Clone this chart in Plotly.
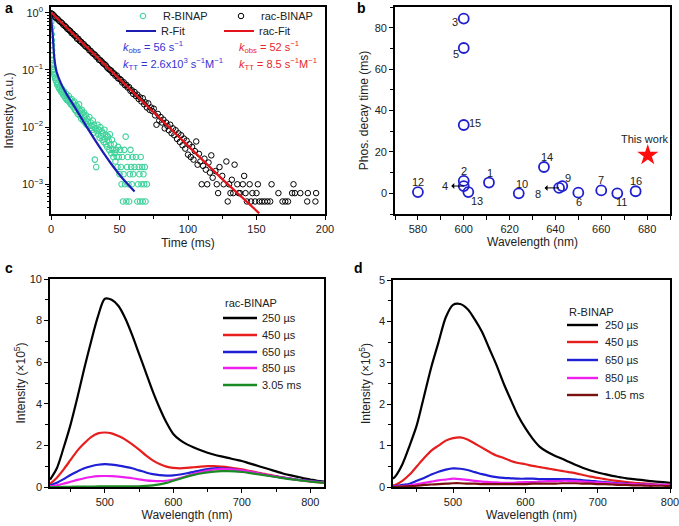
import plotly.graph_objects as go

# ---------------- data ----------------
# panel a : phosphorescence decay
r_t = [0.2, 0.3, 0.4, 0.5, 0.6, 0.7, 0.8, 0.9, 1.0, 1.2, 1.4, 1.6, 1.8, 2.0, 2.3, 2.6, 3.0, 3.5, 4.0, 4.5,
       5.0, 5.5, 6.0, 6.5, 7.0, 7.5, 8.0, 8.5, 9.0, 9.5, 10.0, 10.5, 11.0, 11.5, 12.0, 12.5, 13.0, 13.5,
       14.0, 14.5, 15.0, 15.5, 16.0, 16.5, 17.0, 17.5, 18.0, 18.5, 19.0, 19.5, 20.0, 20.5, 21.0, 21.5,
       22.0, 22.5, 23.0, 23.5, 24.0, 24.5, 25.0, 25.5, 26.0, 26.5, 27.0, 27.5, 28.0, 28.5, 29.0, 29.5,
       30.0, 30.5, 31.0, 31.5, 32.0, 32.5, 33.0, 33.5, 34.0, 34.5, 35.0, 35.5, 36.0, 36.5, 37.0, 37.5,
       38.0, 38.5, 39.0, 39.5, 40.0, 40.5, 41.0, 41.5, 42.0, 42.5, 43.0, 43.5, 44.0, 44.5, 45.0, 45.5,
       46.0, 46.5, 47.0, 47.5, 48.0, 48.5, 49.0, 49.5, 50.0, 50.5, 51.0, 51.5, 52.0, 52.5, 53.0, 53.5,
       54.0, 54.5, 55.0, 55.5, 56.0, 56.5, 57.0, 57.5, 58.0, 58.5, 59.0, 59.5, 60.0, 61.0, 62.0, 63.0,
       63.5, 64.0, 64.5, 65.0, 65.5, 66.0, 66.5, 67.0, 67.5, 68.0, 68.5, 69.0, 70.0]
r_I = [0.95, 0.7, 0.55, 0.42, 0.33, 0.27, 0.22, 0.18, 0.15, 0.13, 0.115, 0.105, 0.1, 0.092, 0.085, 0.08,
       0.072, 0.066, 0.062, 0.055, 0.058, 0.05, 0.047, 0.052, 0.044, 0.041, 0.046, 0.039, 0.036, 0.042,
       0.035, 0.032, 0.038, 0.03, 0.033, 0.029, 0.035, 0.027, 0.03, 0.025, 0.031, 0.024, 0.027, 0.022,
       0.028, 0.02, 0.024, 0.019, 0.023, 0.017, 0.021, 0.025, 0.016, 0.019, 0.014, 0.02, 0.017, 0.013,
       0.018, 0.015, 0.012, 0.016, 0.011, 0.014, 0.0125, 0.0105, 0.015, 0.0095, 0.012, 0.0105, 0.009,
       0.013, 0.008, 0.011, 0.0027, 0.0095, 0.002, 0.0085, 0.011, 0.0075, 0.009, 0.0065, 0.01, 0.007,
       0.0085, 0.006, 0.0078, 0.0055, 0.009, 0.0062, 0.005, 0.0072, 0.0045, 0.0068, 0.0058, 0.004, 0.0075,
       0.005, 0.0035, 0.006, 0.004, 0.003, 0.005, 0.0035, 0.0025, 0.004, 0.003, 0.002, 0.0045, 0.003,
       0.0015, 0.004, 0.002, 0.001, 0.003, 0.0005, 0.0015, 0.004, 0.001, 0.0068, 0.0005, 0.002, 0.003,
       0.001, 0.0005, 0.0015, 0.004, 0.002, 0.001, 0.003, 0.0015, 0.002, 0.003, 0.0005, 0.001, 0.002,
       0.0015, 0.0005, 0.003, 0.001, 0.002, 0.0005, 0.0015, 0.001, 0.002, 0.0005, 0.001]

rac_t = [0, 1, 2, 3, 4, 5, 6, 7, 8, 9, 10, 11, 12, 13, 14, 15, 16, 17, 18, 19, 20, 21, 22, 23, 24, 25,
         26, 27, 28, 29, 30, 31, 32, 33, 34, 35, 36, 37, 38, 39, 40, 41, 42, 43, 44, 45, 46, 47, 48, 49,
         50, 51, 52, 53, 54, 55, 56, 57, 58, 59, 60, 61, 62, 63, 64, 65, 66, 67, 68, 69, 70, 71, 72, 73,
         74, 75, 76, 77, 78, 79, 80, 81, 82, 83, 84, 85, 86, 87, 88, 89, 90, 91, 92, 93, 94, 95, 96, 97,
         98, 99, 100, 101, 102, 103, 104, 105, 106, 107, 108, 109, 110, 111, 112, 113, 114, 115, 116, 117,
         118, 120, 121, 122, 123, 125, 126, 128, 129, 130, 131, 132, 133, 134, 136, 137, 138, 140, 141,
         142, 143, 145, 146, 147, 149, 150, 151, 152, 154, 156, 158, 160, 161, 166, 169, 171, 173, 176,
         177, 178, 182, 187, 187.5, 193, 193.5]
rac_I = [0.98, 0.95, 0.9, 0.84, 0.8, 0.77, 0.72, 0.69, 0.66, 0.61, 0.59, 0.56, 0.52, 0.5, 0.48, 0.44,
         0.43, 0.4, 0.39, 0.35, 0.35, 0.32, 0.31, 0.29, 0.28, 0.26, 0.25, 0.24, 0.22, 0.215, 0.2, 0.19,
         0.185, 0.17, 0.165, 0.15, 0.148, 0.14, 0.13, 0.126, 0.12, 0.11, 0.104, 0.1, 0.097, 0.088, 0.087,
         0.079, 0.08, 0.071, 0.07, 0.067, 0.06, 0.061, 0.054, 0.055, 0.049, 0.05, 0.043, 0.044, 0.038,
         0.041, 0.035, 0.037, 0.031, 0.033, 0.028, 0.032, 0.025, 0.027, 0.022, 0.026, 0.02, 0.022, 0.019,
         0.021, 0.016, 0.011, 0.017, 0.013, 0.015, 0.012, 0.0135, 0.0095, 0.012, 0.0105, 0.0088, 0.011,
         0.0078, 0.0095, 0.0072, 0.0088, 0.0062, 0.0078, 0.0055, 0.0072, 0.0048, 0.0063, 0.0042, 0.0058,
         0.0033, 0.005, 0.003, 0.0045, 0.0027, 0.0038, 0.0056, 0.0022, 0.0034, 0.0025, 0.001, 0.0021,
         0.0028, 0.0018, 0.001, 0.0024, 0.0016, 0.0032, 0.0013, 0.0017, 0.001, 0.0007, 0.002, 0.0014,
         0.001, 0.0025, 0.0005, 0.001, 0.0007, 0.0012, 0.0007, 0.0022, 0.001, 0.0007, 0.0007, 0.001,
         0.0014, 0.0007, 0.0005, 0.001, 0.0005, 0.0007, 0.0005, 0.0007, 0.001, 0.0005, 0.0005, 0.0005,
         0.0005, 0.0005, 0.001, 0.0007, 0.0005, 0.0005, 0.0005, 0.0007, 0.001, 0.0007, 0.0007, 0.0005,
         0.0007, 0.0005, 0.0007]

rfit_t = [0, 0.5, 1.2, 2.4, 4.1, 7.3, 11, 17, 24.4, 33, 42.7, 52.4, 61]
rfit_I = [1.0, 0.62, 0.43, 0.16, 0.093, 0.058, 0.039, 0.023, 0.0117, 0.0055, 0.0025, 0.00125, 0.00075]
racfit_t = [0, 25, 50, 75, 100, 125, 152]
racfit_I = [1.02, 0.266, 0.0695, 0.0181, 0.0047, 0.00123, 0.00031]

a_tickvals = [1, 0.1, 0.01, 0.001]
a_ticktext = ["10<sup>0</sup>", "10<sup>−1</sup>", "10<sup>−2</sup>", "10<sup>−3</sup>"]

# panel b : literature comparison
b_wl = [611, 600, 600, 600, 600, 650, 660, 641.6, 643, 624, 667, 580, 602, 635, 600, 675]
b_tau = [5.2, 6.0, 84.4, 3.5, 70.2, 0.3, 1.4, 2.6, 3.5, 0.0, 0.0, 0.6, 0.6, 12.7, 33.0, 1.0]
b_lab = ["1", "2", "3", "4", "5", "6", "7", "8", "9", "10", "11", "12", "13", "14", "15", "16"]
this_wl = [680.3]
this_tau = [18.4]

# panel c : rac-BINAP spectra
wl_c = [420, 430, 440, 450, 460, 470, 480, 490, 500, 510, 520, 530, 540, 550, 560, 570, 580, 590, 600,
        610, 620, 630, 640, 650, 660, 670, 680, 690, 700, 710, 720, 730, 740, 750, 760, 770, 780, 790,
        800, 810, 820]
c_250us = [0.35, 0.9, 1.9, 3.0, 4.3, 5.7, 7.0, 8.2, 9.05, 9.0, 8.7, 8.1, 7.3, 6.4, 5.5, 4.6, 3.8, 3.1,
           2.55, 2.25, 2.05, 1.9, 1.77, 1.65, 1.55, 1.47, 1.4, 1.32, 1.25, 1.15, 1.05, 0.95, 0.85, 0.75,
           0.65, 0.57, 0.5, 0.42, 0.36, 0.3, 0.26]
c_450us = [0.15, 0.45, 0.85, 1.3, 1.75, 2.1, 2.4, 2.58, 2.62, 2.58, 2.45, 2.28, 2.05, 1.8, 1.52, 1.28,
           1.1, 0.98, 0.92, 0.9, 0.92, 0.95, 0.98, 1.0, 1.0, 0.98, 0.95, 0.9, 0.85, 0.78, 0.72, 0.65, 0.58,
           0.52, 0.46, 0.4, 0.35, 0.3, 0.27, 0.23, 0.2]
c_650us = [0.08, 0.2, 0.38, 0.58, 0.75, 0.9, 1.0, 1.07, 1.1, 1.08, 1.03, 0.97, 0.9, 0.8, 0.7, 0.62, 0.57,
           0.55, 0.56, 0.6, 0.66, 0.73, 0.8, 0.86, 0.9, 0.9, 0.88, 0.84, 0.79, 0.73, 0.67, 0.61, 0.55,
           0.5, 0.45, 0.4, 0.36, 0.32, 0.29, 0.26, 0.23]
c_850us = [0.03, 0.08, 0.16, 0.25, 0.34, 0.42, 0.48, 0.52, 0.53, 0.52, 0.5, 0.46, 0.42, 0.37, 0.32, 0.29,
           0.28, 0.3, 0.35, 0.43, 0.53, 0.63, 0.72, 0.79, 0.84, 0.86, 0.86, 0.84, 0.8, 0.75, 0.69, 0.62,
           0.56, 0.5, 0.45, 0.4, 0.35, 0.31, 0.28, 0.25, 0.22]
c_305ms = [0.0, 0.0, 0.01, 0.01, 0.02, 0.02, 0.02, 0.03, 0.03, 0.03, 0.03, 0.03, 0.03, 0.03, 0.05, 0.08,
           0.13, 0.2, 0.3, 0.4, 0.5, 0.58, 0.65, 0.7, 0.74, 0.76, 0.76, 0.75, 0.72, 0.68, 0.63, 0.58, 0.53,
           0.48, 0.43, 0.38, 0.34, 0.3, 0.26, 0.23, 0.2]

# panel d : R-BINAP spectra
wl_d = [417, 420, 430, 440, 450, 460, 470, 480, 490, 500, 510, 520, 530, 540, 550, 560, 570, 580, 590,
        600, 610, 620, 630, 640, 650, 660, 670, 680, 690, 700, 710, 720, 730, 740, 750, 760, 770, 780,
        790, 800]
d_250us = [0.2, 0.25, 0.55, 1.0, 1.5, 2.2, 2.9, 3.5, 4.1, 4.4, 4.42, 4.3, 4.05, 3.75, 3.35, 2.95, 2.5,
           2.1, 1.72, 1.42, 1.17, 0.97, 0.85, 0.76, 0.69, 0.61, 0.53, 0.46, 0.4, 0.35, 0.31, 0.27, 0.24,
           0.21, 0.19, 0.17, 0.15, 0.13, 0.12, 0.1]
d_450us = [0.04, 0.05, 0.15, 0.3, 0.5, 0.7, 0.88, 1.0, 1.12, 1.18, 1.2, 1.15, 1.05, 0.95, 0.85, 0.76, 0.7,
           0.63, 0.58, 0.55, 0.51, 0.48, 0.45, 0.42, 0.39, 0.36, 0.33, 0.29, 0.25, 0.22, 0.19, 0.16, 0.14,
           0.12, 0.1, 0.09, 0.08, 0.06, 0.05, 0.05]
d_650us = [0.02, 0.02, 0.05, 0.08, 0.15, 0.22, 0.3, 0.37, 0.42, 0.45, 0.44, 0.41, 0.36, 0.31, 0.27, 0.24,
           0.22, 0.21, 0.2, 0.2, 0.2, 0.19, 0.19, 0.19, 0.19, 0.19, 0.18, 0.16, 0.15, 0.13, 0.12, 0.1, 0.09,
           0.08, 0.07, 0.06, 0.06, 0.05, 0.05, 0.04]
d_850us = [0.01, 0.01, 0.02, 0.04, 0.07, 0.1, 0.13, 0.16, 0.18, 0.2, 0.19, 0.17, 0.15, 0.13, 0.12, 0.11,
           0.1, 0.1, 0.11, 0.12, 0.12, 0.13, 0.14, 0.14, 0.15, 0.15, 0.14, 0.13, 0.12, 0.11, 0.1, 0.09,
           0.08, 0.07, 0.07, 0.06, 0.06, 0.05, 0.05, 0.05]
d_105ms = [0.0, 0.0, 0.01, 0.02, 0.03, 0.05, 0.06, 0.07, 0.08, 0.09, 0.09, 0.08, 0.08, 0.07, 0.07, 0.07,
           0.07, 0.07, 0.07, 0.07, 0.08, 0.08, 0.08, 0.08, 0.09, 0.09, 0.09, 0.08, 0.08, 0.07, 0.07, 0.06,
           0.05, 0.05, 0.04, 0.04, 0.03, 0.03, 0.03, 0.02]

# ---------------- figure ----------------
W, H = 679, 526
FONT = "Liberation Sans, Arial, Helvetica, sans-serif"


def px_x(a, b):
    return [a / W, b / W]


def px_y(top, bottom):
    return [1 - bottom / H, 1 - top / H]


fig = go.Figure()

GREEN = "#3fd39b"
BLUE_FIT = "#1d1db4"
RED_FIT = "#e3141c"

# panel a traces
fig.add_trace(go.Scatter(x=r_t, y=r_I, mode="markers", name="R-BINAP", xaxis="x", yaxis="y",
                         marker=dict(symbol="circle-open", size=5.5, color=GREEN, line=dict(width=1.1)),
                         legend="legend"))
fig.add_trace(go.Scatter(x=rac_t, y=rac_I, mode="markers", name="rac-BINAP", xaxis="x", yaxis="y",
                         marker=dict(symbol="circle-open", size=5.5, color="black", line=dict(width=1)),
                         legend="legend2"))
fig.add_trace(go.Scatter(x=rfit_t, y=rfit_I, mode="lines", name="R-Fit", xaxis="x", yaxis="y",
                         line=dict(color=BLUE_FIT, width=2.2, shape="spline", smoothing=0.6),
                         legend="legend3"))
fig.add_trace(go.Scatter(x=racfit_t, y=racfit_I, mode="lines", name="rac-Fit", xaxis="x", yaxis="y",
                         line=dict(color=RED_FIT, width=2.2), legend="legend4"))

# panel b traces
fig.add_trace(go.Scatter(x=b_wl, y=b_tau, mode="markers", xaxis="x2", yaxis="y2", showlegend=False,
                         marker=dict(symbol="circle-open", size=10, color="#2020d0", line=dict(width=1.8))))
fig.add_trace(go.Scatter(x=this_wl, y=this_tau, mode="markers", xaxis="x2", yaxis="y2", showlegend=False,
                         marker=dict(symbol="star", size=16, color="#ff0d0d", line=dict(width=0))))

# panel c / d traces
c_series = [("250 µs", c_250us, "#000000"), ("450 µs", c_450us, "#e61e1e"), ("650 µs", c_650us, "#1f1fd6"),
            ("850 µs", c_850us, "#ef20ef"), ("3.05 ms", c_305ms, "#1c8a24")]
d_series = [("250 µs", d_250us, "#000000"), ("450 µs", d_450us, "#e61e1e"), ("650 µs", d_650us, "#1f1fd6"),
            ("850 µs", d_850us, "#ef20ef"), ("1.05 ms", d_105ms, "#7a1010")]
for name, vals, col in c_series:
    fig.add_trace(go.Scatter(x=wl_c, y=vals, mode="lines", name=name, xaxis="x3", yaxis="y3",
                             showlegend=False,
                             line=dict(color=col, width=2.2, shape="spline", smoothing=0.8)))
for name, vals, col in d_series:
    fig.add_trace(go.Scatter(x=wl_d, y=vals, mode="lines", name=name, xaxis="x4", yaxis="y4",
                             showlegend=False,
                             line=dict(color=col, width=2.2, shape="spline", smoothing=0.8)))

axis_common = dict(showline=True, linecolor="black", linewidth=1.6, mirror=True, ticks="outside",
                   ticklen=4, tickwidth=1.2, tickcolor="black", showgrid=False, zeroline=False,
                   automargin=False, ticklabeloverflow="allow",
                   tickfont=dict(size=11, color="#222", family=FONT),
                   title_font=dict(size=12, color="#222", family=FONT))

minor_a_y = []
for e in [-4, -3, -2, -1, 0]:
    for k in range(2, 10):
        minor_a_y.append(k * 10 ** e)

fig.update_layout(
    width=W, height=H, margin=dict(l=0, r=0, t=0, b=0),
    paper_bgcolor="white", plot_bgcolor="white",
    font=dict(family=FONT, size=11, color="#222"),
    xaxis=dict(axis_common, domain=px_x(51, 325), range=[0, 200], dtick=50, tick0=0,
               minor=dict(ticks="outside", dtick=25, ticklen=3, tickcolor="black"),
               title=dict(text="Time (ms)", standoff=5), anchor="y"),
    yaxis=dict(axis_common, domain=px_y(7, 214), type="log", range=[-3.52, 0.1],
               tickvals=a_tickvals, ticktext=a_ticktext,
               minor=dict(ticks="outside", tickvals=minor_a_y, ticklen=2.5, tickcolor="black"),
               title=dict(text="Intensity (a.u.)", standoff=6), anchor="x"),
    xaxis2=dict(axis_common, domain=px_x(395, 670), range=[570, 690], dtick=20, tick0=580,
                minor=dict(ticks="outside", dtick=10, tick0=570, ticklen=4, tickcolor="black"),
                title=dict(text="Wavelength (nm)", standoff=4), anchor="y2"),
    yaxis2=dict(axis_common, domain=px_y(7, 214), range=[-10, 90], dtick=20, tick0=0,
                minor=dict(ticks="outside", dtick=10, ticklen=3, tickcolor="black"),
                title=dict(text="Phos. decay time (ms)", standoff=4), anchor="x2"),
    xaxis3=dict(axis_common, domain=px_x(50, 324), range=[420, 820], tickvals=[500, 600, 700, 800],
                minor=dict(ticks="outside", dtick=50, tick0=450, ticklen=3, tickcolor="black"),
                title=dict(text="Wavelength (nm)", standoff=4), anchor="y3"),
    yaxis3=dict(axis_common, domain=px_y(279, 487), range=[0, 10], dtick=2, tick0=0,
                minor=dict(ticks="outside", dtick=1, ticklen=3, tickcolor="black"),
                title=dict(text="Intensity (×10<sup>5</sup>)", standoff=2), anchor="x3"),
    xaxis4=dict(axis_common, domain=px_x(393, 670), range=[417, 800], tickvals=[500, 600, 700, 800],
                minor=dict(ticks="outside", dtick=50, tick0=450, ticklen=3, tickcolor="black"),
                title=dict(text="Wavelength (nm)", standoff=4), anchor="y4"),
    yaxis4=dict(axis_common, domain=px_y(280, 487), range=[0, 5], dtick=1, tick0=0,
                minor=dict(ticks="outside", dtick=0.5, ticklen=3, tickcolor="black"),
                title=dict(text="Intensity (×10<sup>5</sup>)", standoff=6), anchor="x4"),
)

leg_common = dict(bgcolor="rgba(0,0,0,0)", borderwidth=0, font=dict(size=11, color="#222", family=FONT),
                  xanchor="left", yanchor="middle", itemclick=False, itemdoubleclick=False)
fig.update_layout(
    legend=dict(leg_common, x=123 / W, y=1 - 16 / H),
    legend2=dict(leg_common, x=221 / W, y=1 - 16 / H),
    legend3=dict(leg_common, x=121 / W, y=1 - 31 / H),
    legend4=dict(leg_common, x=219 / W, y=1 - 31 / H),
)

ann = []
shapes = []
# panel labels
for txt, x, y in [("a", 3, 8), ("b", 355, 8), ("c", 3, 268), ("d", 352, 268)]:
    ann.append(dict(text="<b>%s</b>" % txt, x=x / W, y=1 - y / H, xref="paper", yref="paper",
                     showarrow=False, xanchor="left", yanchor="middle", font=dict(size=14, color="black")))
# rate constants
KB = "#3434d0"
KR = "#e8262c"
for txt, x, y, col in [
    ("<i>k</i><sub>obs</sub> = 56 s<sup>−1</sup>", 121, 47, KB),
    ("<i>k</i><sub>TT</sub> = 2.6x10<sup>3</sup> s<sup>−1</sup>M<sup>−1</sup>", 121, 64, KB),
    ("<i>k</i><sub>obs</sub> = 52 s<sup>−1</sup>", 237, 47, KR),
    ("<i>k</i><sub>TT</sub> = 8.5 s<sup>−1</sup>M<sup>−1</sup>", 237, 64, KR),
]:
    ann.append(dict(text=txt, x=x / W, y=1 - y / H, xref="paper", yref="paper", showarrow=False,
                    xanchor="left", yanchor="middle", font=dict(size=11, color=col)))

# legends of panels c and d (compact, drawn as line keys + labels)
for title, series, lx0, lx1, tx, ty, ys in [
    ("rac-BINAP", c_series, 223, 257, 260, 303, [318, 335, 352, 368, 385]),
    ("R-BINAP", d_series, 567, 598, 603, 312, [325, 342, 360, 378, 395]),
]:
    ann.append(dict(text=title, x=lx0 / W, y=1 - ty / H, xref="paper", yref="paper", showarrow=False,
                    xanchor="left", yanchor="middle", font=dict(size=11, color="#222")))
    for (name, vals, col), yy in zip(series, ys):
        shapes.append(dict(type="line", xref="paper", yref="paper", x0=lx0 / W, x1=lx1 / W,
                           y0=1 - yy / H, y1=1 - yy / H, line=dict(color=col, width=2.4)))
        ann.append(dict(text=name, x=tx / W, y=1 - yy / H, xref="paper", yref="paper", showarrow=False,
                        xanchor="left", yanchor="middle", font=dict(size=11, color="#222")))

# panel b point labels (pixel offsets)
b_off = {"1": (1, 10), "2": (0, 10), "3": (-9, -3), "4": (-19, 0), "5": (-8, -6), "6": (1, -9),
         "7": (0, 10), "8": (-21, -6), "9": (6, 8), "10": (3, 9), "11": (4, -9), "12": (0, 10),
         "13": (9, -9), "14": (3, 10), "15": (11, 2), "16": (0, 10)}
for wl, tau, lab in zip(b_wl, b_tau, b_lab):
    dx, dy = b_off[lab]
    ann.append(dict(text=lab, x=wl, y=tau, xref="x2", yref="y2", showarrow=False, xshift=dx, yshift=dy,
                    font=dict(size=11, color="#222")))
for lab, length in [("4", 14), ("8", 16)]:
    i = b_lab.index(lab)
    ann.append(dict(text="", x=b_wl[i], y=b_tau[i], xref="x2", yref="y2", ax=-length, ay=0,
                    showarrow=True, arrowside="start", arrowhead=2, arrowsize=0.8, arrowwidth=1,
                    arrowcolor="black", standoff=0, startstandoff=0))
ann.append(dict(text="This work", x=this_wl[0], y=this_tau[0], xref="x2", yref="y2", showarrow=False,
                xshift=-3, yshift=16, font=dict(size=11, color="#222")))
fig.update_layout(annotations=ann, shapes=shapes)

fig.write_html("out.html", config={"displayModeBar": False},
               post_script="document.body.style.margin='0px';")
